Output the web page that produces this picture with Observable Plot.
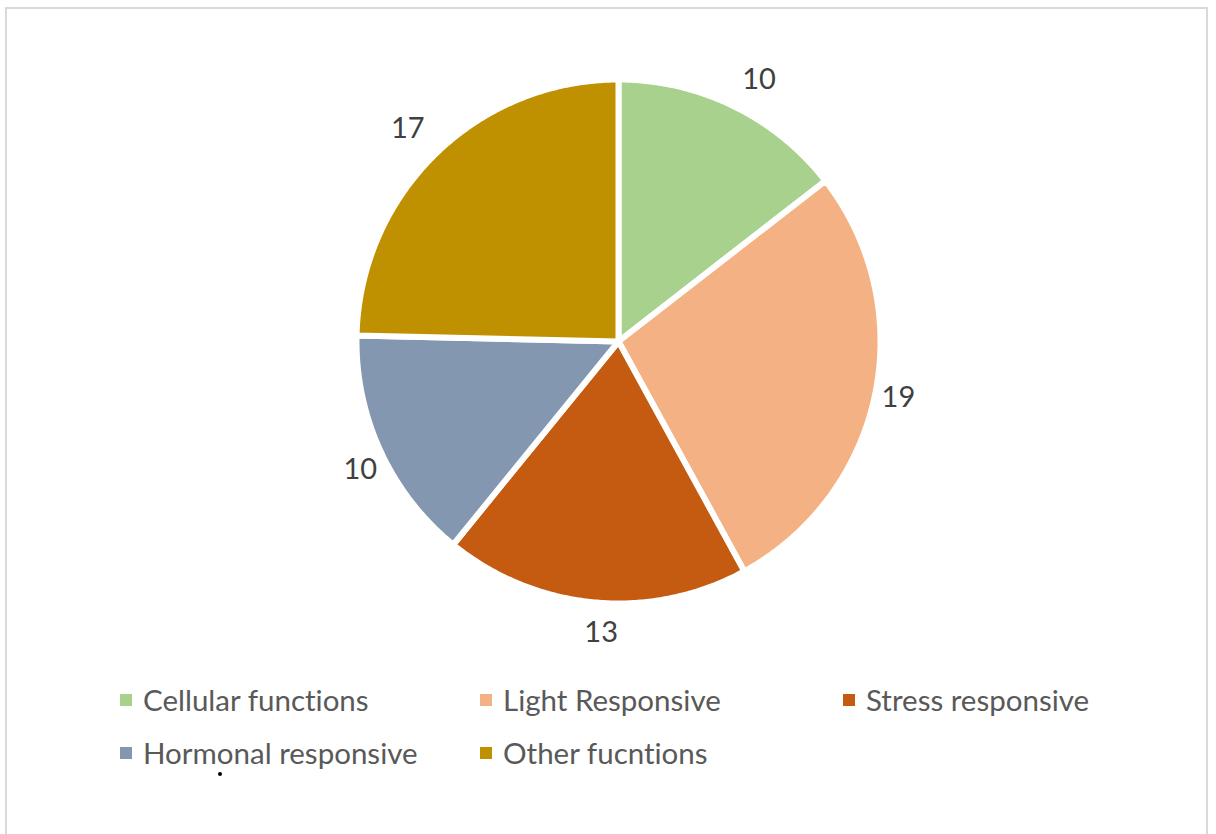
<!DOCTYPE html>
<html>
<head>
<meta charset="utf-8">
<script src="https://cdn.jsdelivr.net/npm/d3@7"></script>
<script src="https://cdn.jsdelivr.net/npm/@observablehq/plot@0.6"></script>
<style>
  html, body { margin: 0; padding: 0; background: #fff; overflow: hidden; }
  #page { position: relative; width: 1216px; height: 834px; font-family: Lato, "Open Sans", sans-serif; color: #595959; font-variant-ligatures: none; font-feature-settings: "liga" 0, "clig" 0; }
  #frame { position: absolute; left: 5px; top: 7px; width: 1203px; height: 900px; border: 2px solid #d9d9d9; box-sizing: border-box; }
  #chart { position: absolute; left: 0; top: 0; }
  #legend { position: absolute; left: 0; top: 0; width: 1216px; }
  .item { position: absolute; display: flex; align-items: center; height: 34px; line-height: 34px; font-size: 29.5px; white-space: nowrap; }
  .sw { width: 12px; height: 12px; margin-right: 11px; flex: none; }
  #speck { position: absolute; left: 218px; top: 772px; width: 4px; height: 4px; border-radius: 2px; background: #000; }
</style>
</head>
<body>
<div id="page">
  <div id="frame"></div>
  <div id="chart"></div>
  <div id="legend"></div>
  <div id="speck"></div>
</div>
<script>
const categories = ["Cellular functions", "Light Responsive", "Stress responsive", "Hormonal responsive", "Other fucntions"];
const values = [10, 19, 13, 10, 17];
const colors = ["#a9d18e", "#f4b183", "#c55a11", "#8497b0", "#bf9000"];

// layout (pixels)
const W = 1216, H = 680, R = 262, CX = 618, CY = 341, LABEL_R = 290;
const labelNudge = [[13, -1], [-4, -3], [9, 2], [5, 7], [-8, -5]]; // [right, down] px tweaks

const pie = d3.pie().sort(null).value(d => d.value)(categories.map((c, i) => ({cat: c, value: values[i]})));

// slice outlines in unit-radius coordinates (angles clockwise from top)
const poly = [];
for (const s of pie) {
  const cat = s.data.cat;
  poly.push({cat, x: 0, y: 0});
  const n = Math.max(2, Math.ceil((s.endAngle - s.startAngle) / (Math.PI / 360)));
  for (let k = 0; k <= n; k++) {
    const a = s.startAngle + (s.endAngle - s.startAngle) * k / n;
    poly.push({cat, x: Math.sin(a), y: Math.cos(a)});
  }
  poly.push({cat, x: 0, y: 0});
}
const labels = pie.map((s, i) => {
  const a = (s.startAngle + s.endAngle) / 2;
  return {
    cat: s.data.cat, value: s.data.value,
    x: (LABEL_R * Math.sin(a) + labelNudge[i][0]) / R,
    y: (LABEL_R * Math.cos(a) - labelNudge[i][1]) / R
  };
});

const chart = Plot.plot({
  width: W, height: H,
  margin: 0,
  x: {domain: [-CX / R, (W - CX) / R], axis: null},
  y: {domain: [-(H - CY) / R, CY / R], axis: null},
  color: {domain: categories, range: colors},
  marks: [
    Plot.line(poly, {x: "x", y: "y", z: "cat", fill: "cat", stroke: "white", strokeWidth: 6, strokeLinejoin: "round", curve: "linear"}),
    Plot.text(labels, {x: "x", y: "y", text: d => String(d.value), fontSize: 29, fill: "#404040", fontFamily: "Lato, sans-serif"})
  ],
  style: {background: "transparent", overflow: "visible"}
});
document.getElementById("chart").appendChild(chart);

const legendPos = [[120, 700], [480, 700], [843, 700], [120, 753], [480, 753]];
const legend = document.getElementById("legend");
categories.forEach((c, i) => {
  const it = document.createElement("div");
  it.className = "item";
  it.style.left = legendPos[i][0] + "px";
  it.style.top = (legendPos[i][1] - 17) + "px";
  const sw = document.createElement("span");
  sw.className = "sw";
  sw.style.background = colors[i];
  const tx = document.createElement("span");
  tx.textContent = c;
  it.appendChild(sw); it.appendChild(tx);
  legend.appendChild(it);
});
</script>
</body>
</html>
